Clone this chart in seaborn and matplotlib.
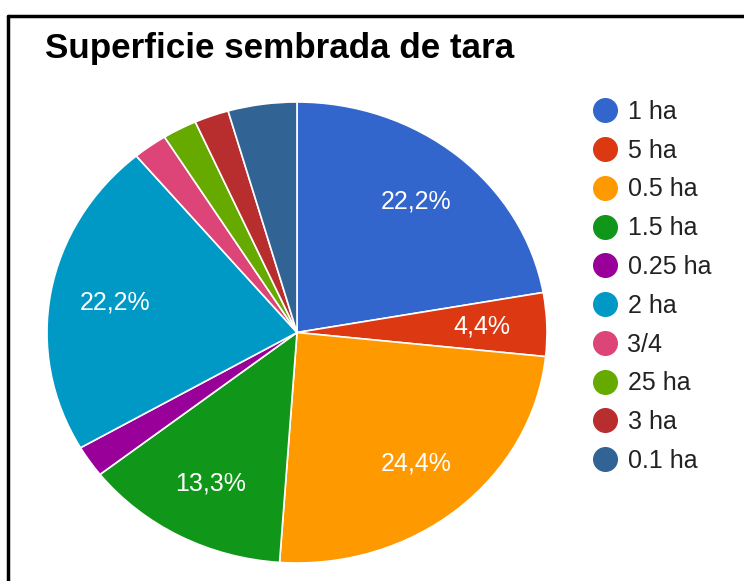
import matplotlib
matplotlib.use('Agg')
import matplotlib.pyplot as plt
import seaborn as sns
from matplotlib.lines import Line2D

# datos: respuestas por superficie sembrada
categorias = ['1 ha', '5 ha', '0.5 ha', '1.5 ha', '0.25 ha', '2 ha', '3/4', '25 ha', '3 ha', '0.1 ha']
respuestas = [10, 2, 11, 6, 1, 10, 1, 1, 1, 2]
colores = ['#3366cc', '#dc3912', '#ff9900', '#109618', '#990099',
           '#0099c6', '#dd4477', '#66aa00', '#b82e2e', '#316395']
sin_etiqueta = ['0.25 ha', '3/4', '25 ha', '3 ha', '0.1 ha']

sns.set_theme(style='white')
plt.rcParams['font.family'] = ['Liberation Sans', 'DejaVu Sans']

paleta = sns.color_palette(colores)

fig = plt.figure(figsize=(7.44, 5.81), dpi=100)
ax = fig.add_axes([47 / 744, 18 / 581, 500 / 744, 461 / 581])

etiquetas_iter = iter(categorias)


def fmt_pct(pct):
    cat = next(etiquetas_iter)
    if cat in sin_etiqueta:
        return ''
    return f'{pct:.1f}%'.replace('.', ',')


wedges, textos, pcts = ax.pie(respuestas, colors=paleta, startangle=90, counterclock=False,
                              autopct=fmt_pct, pctdistance=0.74,
                              wedgeprops=dict(edgecolor='white', linewidth=1.2),
                              textprops=dict(color='white', fontsize=18))
ax.set_aspect('auto')
ax.set_xlim(-1, 1)
ax.set_ylim(-1, 1)

fig.text(45 / 744, 1 - 58 / 581, 'Superficie sembrada de tara', fontsize=25.2,
         fontweight='bold', color='#000000', va='baseline', ha='left')

handles = [Line2D([0], [0], marker='o', linestyle='', markersize=17,
                  markerfacecolor=c, markeredgecolor=c) for c in paleta]
leg = fig.legend(handles, categorias, loc='upper left',
                 bbox_to_anchor=(592 / 744, 1 - 100 / 581), frameon=False,
                 fontsize=18, labelspacing=0.59, handlelength=1.0,
                 handletextpad=0.42, borderpad=0, borderaxespad=0)
for t in leg.get_texts():
    t.set_color('#222222')

# marco negro izquierdo y superior
fig.add_artist(Line2D([8 / 744, 8 / 744], [0, 1 - 15.5 / 581], transform=fig.transFigure,
                      color='black', linewidth=2.5))
fig.add_artist(Line2D([8 / 744, 1], [1 - 15.5 / 581, 1 - 15.5 / 581], transform=fig.transFigure,
                      color='black', linewidth=2.5))

fig.savefig('out.png', dpi=100)
